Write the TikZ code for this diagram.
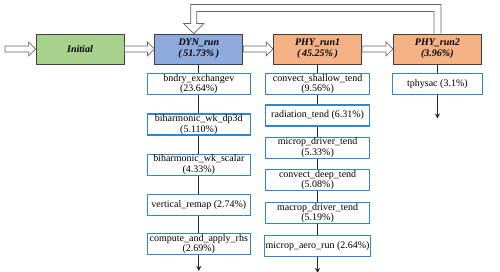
\documentclass[tikz,border=0pt]{standalone}
\usepackage{fontspec}
\setmainfont{Liberation Serif}
\usetikzlibrary{arrows.meta, positioning, calc}

\definecolor{initgreen}{HTML}{A9D18E}
\definecolor{dynblue}{HTML}{8FAADC}
\definecolor{phyorange}{HTML}{F4B183}
\definecolor{subblue}{HTML}{2F86D0}

% hollow block arrow between two points
\newcommand{\hollowarrow}[2]{%
  \draw[hollow] ([yshift=3pt]#1) -- ([xshift=-7pt,yshift=3pt]#2)
    -- ([xshift=-7pt,yshift=7pt]#2) -- (#2)
    -- ([xshift=-7pt,yshift=-7pt]#2) -- ([xshift=-7pt,yshift=-3pt]#2)
    -- ([yshift=-3pt]#1) -- cycle;}

\begin{document}
\begin{tikzpicture}[
    x=1pt, y=1pt,
    font=\fontsize{10}{10.2}\selectfont,
    every node/.style={align=center},
    mainbox/.style={rectangle, draw=black!75, thick, minimum width=88pt,
                    minimum height=30pt, inner sep=1pt,
                    font=\fontsize{10}{11.5}\selectfont\bfseries\itshape},
    subbox/.style ={rectangle, draw=subblue, line width=1.1pt, fill=white,
                    minimum height=21pt, inner xsep=1pt, inner ysep=0pt},
    hollow/.style ={draw=black!60, fill=white, line width=0.7pt},
    link/.style   ={line width=1.1pt, black!85},
    arr/.style    ={-{Stealth[length=5pt,width=5pt]}, line width=1.1pt, black!85}
]
\useasboundingbox (0,0) rectangle (500,-272);

% Main row
\node[mainbox, fill=initgreen] (init) at (80,-49) {Initial};
\node[mainbox, fill=dynblue,   right=30pt of init] (dyn)  {DYN\_run\\(\,51.73\%\,)};
\node[mainbox, fill=phyorange, right=30pt of dyn]  (phy1) {PHY\_run1\\(\,45.25\%\,)};
\node[mainbox, fill=phyorange, right=31pt of phy1] (phy2) {PHY\_run2\\(3.96\%)};
\coordinate (start) at (5,-49);
\coordinate (fbtip) at ([xshift=-5pt]dyn.north);

% DYN column
\node[subbox, minimum width=103pt, below=9pt of dyn]      (bndry)  {bndry\_exchangev\\(23.64\%)};
\node[subbox, minimum width=103pt, below=18pt of bndry]   (dpthd)  {biharmonic\_wk\_dp3d\\(5.110\%)};
\node[subbox, minimum width=103pt, below=18pt of dpthd]   (scalar) {biharmonic\_wk\_scalar\\(4.33\%)};
\node[subbox, minimum width=103pt, below=18pt of scalar]  (remap)  {vertical\_remap (2.74\%)};
\node[subbox, minimum width=103pt, below=17pt of remap]   (rhs)    {compute\_and\_apply\_rhs\\(2.69\%)};
\coordinate[below=16pt of rhs] (dynend);

% PHY_run1 column
\node[subbox, minimum width=104pt, below=9pt of phy1]     (shallow) {convect\_shallow\_tend\\(9.56\%)};
\node[subbox, minimum width=104pt, below=9pt of shallow]  (rad)     {radiation\_tend (6.31\%)};
\node[subbox, minimum width=104pt, below=10pt of rad]     (micdrv)  {microp\_driver\_tend\\(5.33\%)};
\node[subbox, minimum width=104pt, below=10pt of micdrv]  (deep)    {convect\_deep\_tend\\(5.08\%)};
\node[subbox, minimum width=104pt, below=11pt of deep]    (macdrv)  {macrop\_driver\_tend\\(5.19\%)};
\node[subbox, minimum width=104pt, below=11pt of macdrv]  (aero)    {microp\_aero\_run (2.64\%)};
\coordinate[below=16pt of aero] (phyend);

% PHY_run2 column
\node[subbox, minimum width=90pt, below=9pt of phy2] (tphys) {tphysac (3.1\%)};
\coordinate[below=23pt of tphys] (tphend);

% Block arrows along the main row
\hollowarrow{start}{init.west}
\hollowarrow{init.east}{dyn.west}
\hollowarrow{dyn.east}{phy1.west}
\hollowarrow{phy1.east}{phy2.west}

% feedback from PHY_run2 back to DYN_run
\draw[hollow] ([xshift=3.5pt]phy2.north) -- ++(0,29) -| ([shift={(-3,10)}]fbtip)
    -- ++(-7,0) -- (fbtip) -- ([shift={(10,10)}]fbtip) -- ([shift={(3,10)}]fbtip)
    |- ([shift={(-3.5,22)}]phy2.north) -- ([xshift=-3.5pt]phy2.north);

% DYN column links
\draw[link] (dyn)    -- (bndry);
\draw[link] (bndry)  -- (dpthd);
\draw[link] (dpthd)  -- (scalar);
\draw[link] (scalar) -- (remap);
\draw[link] (remap)  -- (rhs);
\draw[arr]  (rhs)    -- (dynend);

% PHY_run1 column links
\draw[link] (phy1)    -- (shallow);
\draw[link] (shallow) -- (rad);
\draw[link] (rad)     -- (micdrv);
\draw[link] (micdrv)  -- (deep);
\draw[link] (deep)    -- (macdrv);
\draw[link] (macdrv)  -- (aero);
\draw[arr]  (aero)    -- (phyend);

% PHY_run2 column links
\draw[link] (phy2)  -- (tphys);
\draw[arr]  (tphys) -- (tphend);
\end{tikzpicture}
\end{document}
